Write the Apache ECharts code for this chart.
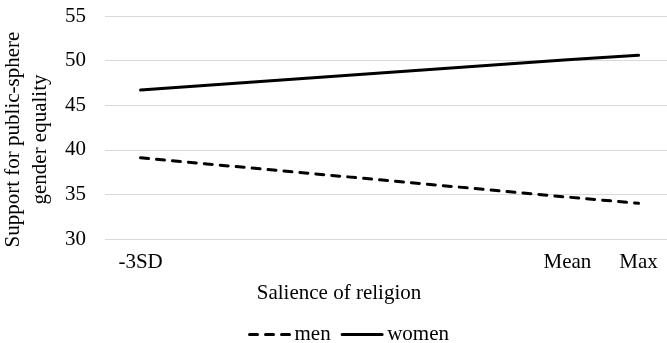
<!DOCTYPE html>
<html>
<head>
<meta charset="utf-8">
<script src="https://cdn.jsdelivr.net/npm/echarts@6/dist/echarts.min.js"></script>
<style>
  html, body { margin: 0; padding: 0; background: #fff; }
  #chart { width: 667px; height: 343px; }
</style>
</head>
<body>
<div id="chart"></div>
<script>
// x positions in SD units from the mean
const xLabels = ['-3SD', 'Mean', 'Max'];
const xPos = [-3, 0, 0.5];
const menValues = [39.1, 34.7, 34.0];
const womenValues = [46.7, 50.1, 50.6];

const font = 'Liberation Serif';
const fs = 21;

function pairs(vals) {
  return vals.map(function (v, i) { return [xPos[i], v]; });
}

let myChart = echarts.init(document.getElementById('chart'));
let option = {
  animation: false,
  textStyle: { fontFamily: font, color: '#000' },
  grid: { left: 105, right: 0, top: 16, bottom: 104, outerBoundsMode: 'none', containLabel: false },
  legend: {
    left: 243,
    top: 319,
    itemWidth: 40,
    itemHeight: 14,
    itemGap: 10,
    itemStyle: { opacity: 0 },
    lineStyle: { width: 3 },
    textStyle: { fontFamily: font, fontSize: fs, color: '#000' },
    data: ['men', 'women']
  },
  xAxis: {
    type: 'value',
    min: -3.25,
    max: 0.7,
    name: 'Salience of religion',
    nameLocation: 'middle',
    nameGap: 44,
    nameTextStyle: { fontFamily: font, fontSize: fs, color: '#000', padding: [0, 94, 0, 0] },
    axisLine: { show: false },
    axisTick: { show: false },
    splitLine: { show: false },
    axisLabel: {
      customValues: xPos,
      margin: 13,
      fontFamily: font,
      fontSize: fs,
      color: '#000',
      formatter: function (v) {
        let i = xPos.indexOf(v);
        return i >= 0 ? xLabels[i] : '';
      }
    }
  },
  yAxis: {
    type: 'value',
    min: 30,
    max: 55,
    interval: 5,
    name: 'Support for public-sphere\ngender equality',
    nameLocation: 'middle',
    nameGap: 45,
    nameTextStyle: { fontFamily: font, fontSize: fs, color: '#000', lineHeight: 27, padding: [0, 24, 0, 0] },
    axisLine: { show: false },
    axisTick: { show: false },
    axisLabel: { margin: 19, fontFamily: font, fontSize: fs, color: '#000' },
    splitLine: { lineStyle: { color: '#d9d9d9', width: 1 } }
  },
  series: [
    {
      name: 'men',
      type: 'line',
      symbol: 'none',
      data: pairs(menValues),
      lineStyle: { color: '#000', width: 3, type: [8, 8], cap: 'round' },
      itemStyle: { color: '#000' }
    },
    {
      name: 'women',
      type: 'line',
      symbol: 'none',
      data: pairs(womenValues),
      lineStyle: { color: '#000', width: 3, cap: 'round' },
      itemStyle: { color: '#000' }
    }
  ]
};
myChart.setOption(option);
</script>
</body>
</html>
